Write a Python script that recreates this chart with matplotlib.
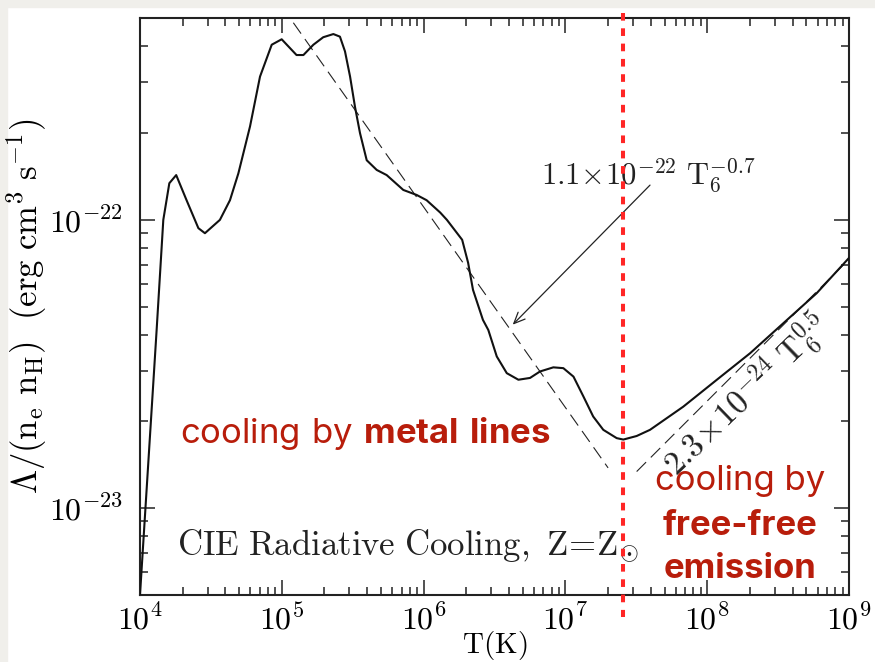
import numpy as np
import matplotlib
matplotlib.use('Agg')
import matplotlib.pyplot as plt
from matplotlib.patches import Rectangle
from matplotlib.ticker import FixedLocator, FixedFormatter, NullFormatter
import matplotlib.transforms as mtransforms

plt.rcParams['mathtext.fontset'] = 'cm'
plt.rcParams['font.family'] = 'serif'
plt.rcParams['font.serif'] = ['DejaVu Serif']
# fonts used by the red notes (mathtext "custom" set)
plt.rcParams['mathtext.rm'] = 'Inter'
plt.rcParams['mathtext.bf'] = 'Inter:bold'

# CIE cooling curve (T in K, Lambda in erg cm^3 s^-1)
temp = [1.0e4, 1.31e4, 1.46e4, 1.61e4, 1.80e4, 2.13e4, 2.58e4, 2.87e4, 3.66e4,
        4.31e4, 4.94e4, 5.97e4, 7.02e4, 8.49e4, 9.98e4, 1.27e5, 1.42e5, 1.67e5,
        1.96e5, 2.31e5, 2.57e5, 2.79e5, 3.03e5, 3.28e5, 3.56e5, 3.97e5, 4.67e5,
        5.49e5, 7.19e5, 8.94e5, 1.05e6, 1.31e6, 1.46e6, 1.87e6, 2.06e6, 2.23e6,
        2.62e6, 2.86e6, 3.28e6, 3.86e6, 4.66e6, 5.63e6, 6.62e6, 8.22e6, 9.67e6,
        1.14e7, 1.34e7, 1.57e7, 1.85e7, 2.30e7, 2.56e7, 3.18e7, 3.95e7, 6.78e7,
        1.17e8, 2.01e8, 3.44e8, 5.92e8, 1.0e9]
lam = [5.0e-24, 4.15e-23, 1.0e-22, 1.34e-22, 1.43e-22, 1.17e-22, 9.36e-23, 8.99e-23, 1.0e-22,
       1.17e-22, 1.45e-22, 2.11e-22, 3.14e-22, 4.05e-22, 4.23e-22, 3.73e-22, 3.73e-22, 4.05e-22,
       4.30e-22, 4.41e-22, 4.32e-22, 3.84e-22, 3.14e-22, 2.47e-22, 2.00e-22, 1.61e-22, 1.49e-22,
       1.43e-22, 1.27e-22, 1.22e-22, 1.17e-22, 1.06e-22, 1.0e-22, 8.53e-23, 7.10e-23, 5.72e-23,
       4.50e-23, 4.15e-23, 3.36e-23, 2.94e-23, 2.79e-23, 2.83e-23, 2.98e-23, 3.08e-23, 3.06e-23,
       2.86e-23, 2.44e-23, 2.08e-23, 1.87e-23, 1.75e-23, 1.73e-23, 1.78e-23, 1.87e-23, 2.25e-23,
       2.79e-23, 3.45e-23, 4.38e-23, 5.57e-23, 7.38e-23]

# power-law guide lines (end points)
metal_T = [1.0e5, 2.0e7]
metal_lam = [5.5e-22, 1.38e-23]
ff_T = [3.18e7, 1.0e9]
ff_lam = [1.34e-23, 7.3e-23]

t_split = 2.56e7

x_major = [1e4, 1e5, 1e6, 1e7, 1e8, 1e9]
x_labels = [r'$10^{4}$', r'$10^{5}$', r'$10^{6}$', r'$10^{7}$', r'$10^{8}$', r'$10^{9}$']
y_major = [1e-23, 1e-22]
y_labels = [r'$10^{-23}$', r'$10^{-22}$']

red = '#b81d0b'

fig = plt.figure(figsize=(8.75, 6.62), dpi=100)
fig.add_artist(Rectangle((0, 1 - 7 / 662), 1, 7 / 662, transform=fig.transFigure,
                         color='#f0efeb', zorder=0))
fig.add_artist(Rectangle((0, 0), 7 / 875, 1, transform=fig.transFigure,
                         color='#f0efeb', zorder=0))

ax = fig.add_axes([0.16, 0.1012, 0.8103, 0.8711])
ax.set_xscale('log')
ax.set_yscale('log')
ax.set_xlim(1e4, 1e9)
ax.set_ylim(5e-24, 5e-22)

ax.plot(temp, lam, color='#111111', lw=1.5, zorder=3)
ax.plot(metal_T, metal_lam, color='#222222', lw=0.8, dashes=(12, 6))
ax.plot(ff_T, ff_lam, color='#222222', lw=0.8, dashes=(12, 6))

# split line between the two regimes, running past the frame
trans = mtransforms.blended_transform_factory(ax.transData, ax.transAxes)
ax.plot([t_split, t_split], [1.0087, -0.038], transform=trans, clip_on=False,
        color='#ff2626', lw=2.9, dashes=(1.9, 1.9), zorder=5)

# ticks
ax.xaxis.set_major_locator(FixedLocator(x_major))
ax.xaxis.set_major_formatter(FixedFormatter(x_labels))
x_minor = [m * d for d in x_major[:-1] for m in range(2, 10)]
ax.xaxis.set_minor_locator(FixedLocator(x_minor))
ax.xaxis.set_minor_formatter(NullFormatter())
ax.yaxis.set_major_locator(FixedLocator(y_major))
ax.yaxis.set_major_formatter(FixedFormatter(y_labels))
y_minor = [m * d for d in [1e-24, 1e-23, 1e-22] for m in range(2, 10)]
ax.yaxis.set_minor_locator(FixedLocator(y_minor))
ax.yaxis.set_minor_formatter(NullFormatter())
ax.tick_params(which='both', direction='in', top=True, right=True, width=1.1,
               color='#222222', labelsize=23)
ax.tick_params(which='major', length=11)
ax.tick_params(which='minor', length=6)
ax.tick_params(axis='x', pad=7)
ax.tick_params(axis='y', pad=12)
for s in ax.spines.values():
    s.set_linewidth(1.5)
    s.set_color('#222222')

ax.set_xlabel(r'$\mathrm{T(K)}$', fontsize=21)
ax.xaxis.set_label_coords(0.5, -0.087)
ax.xaxis.label.set_va('center')
ax.set_ylabel(r'$\Lambda/(\mathrm{n_e\ n_H})\ \ (\mathrm{erg\ cm^3\ s^{-1}})$',
              fontsize=25, labelpad=0)

# labels on the plot
ax.annotate('', xy=(4.25e6, 4.33e-23), xytext=(3.95e7, 1.32e-22),
            arrowprops=dict(arrowstyle='->,head_length=0.8,head_width=0.35',
                            lw=0.9, color='#222222', shrinkA=0, shrinkB=0))
ax.text(6.7e6, 1.32e-22, r'$1.1\!\times\!10^{-22}\ \mathrm{T}_6^{-0.7}$',
        fontsize=22, va='baseline', ha='left', color='#222222')
ax.text(1.9e8, 2.45e-23, r'$2.3\!\times\!10^{-24}\ \mathrm{T}_6^{0.5}$',
        fontsize=24, rotation=44, rotation_mode='anchor', ha='center', va='center',
        color='#222222')
ax.text(0.052, 0.0693, r'$\mathrm{CIE\ Radiative\ Cooling,\ Z\!=\!Z}_{\odot}$',
        transform=ax.transAxes, fontsize=25, va='baseline', color='#222222')

ax.text(0.056, 0.263, r'$\mathrm{cooling\ by\ }\mathbf{metal\ lines}$',
        transform=ax.transAxes, fontsize=25, va='baseline', color=red,
        math_fontfamily='custom', zorder=6)
ax.text(0.846, 0.182, 'cooling by', transform=ax.transAxes, fontsize=25,
        family=['Inter', 'DejaVu Sans'], ha='center', va='baseline', color=red, zorder=6)
ax.text(0.846, 0.104, 'free-free', transform=ax.transAxes, fontsize=25,
        family=['Inter', 'DejaVu Sans'], weight='bold', ha='center', va='baseline',
        color=red, zorder=6)
ax.text(0.846, 0.0295, 'emission', transform=ax.transAxes, fontsize=25,
        family=['Inter', 'DejaVu Sans'], weight='bold', ha='center', va='baseline',
        color=red, zorder=6)

fig.savefig('out.png', dpi=100)
